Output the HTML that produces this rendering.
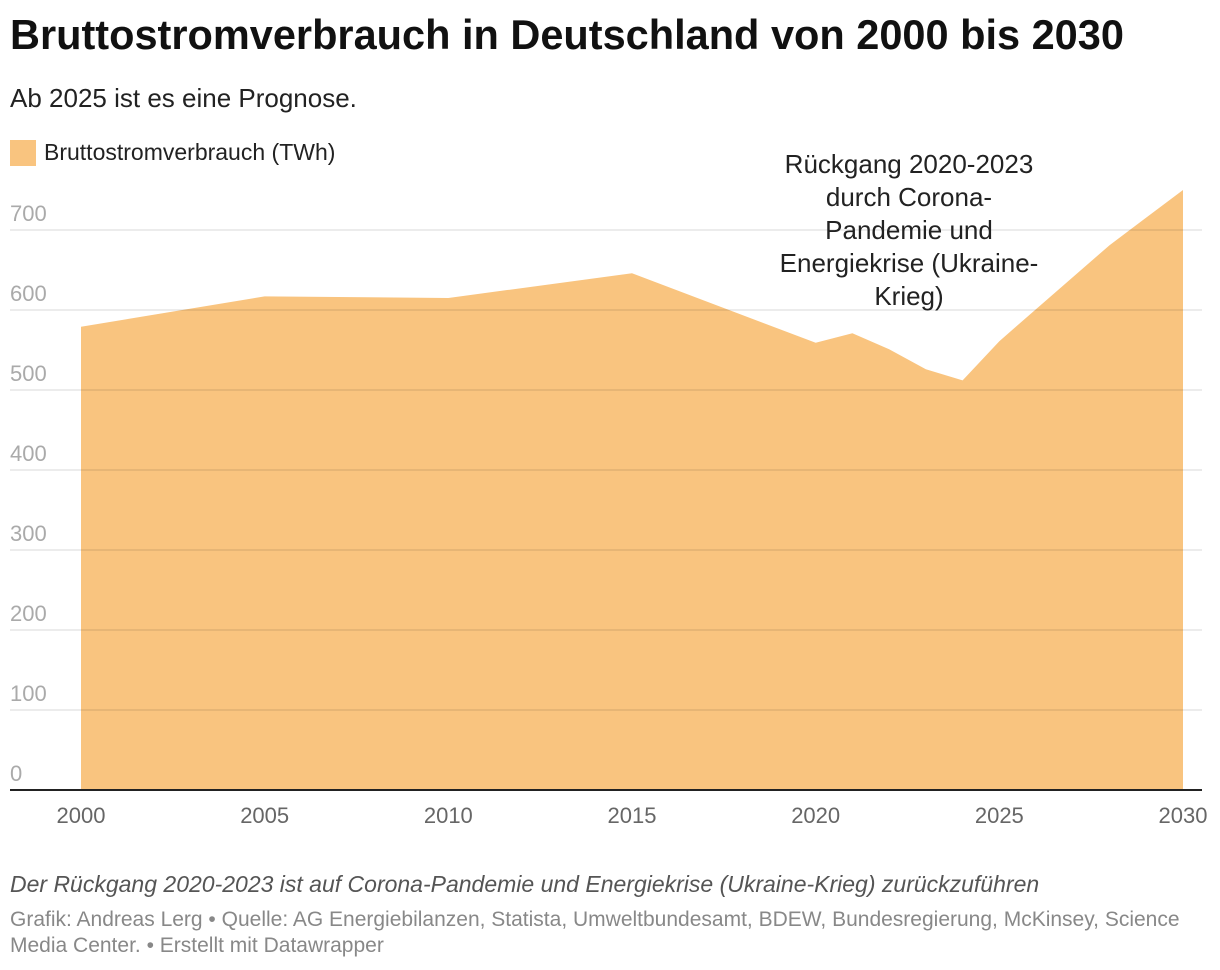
<!DOCTYPE html>
<html><head><meta charset="utf-8"><style>
body{margin:0;background:#fff;font-family:"Liberation Sans",sans-serif;width:1220px;height:970px;overflow:hidden;position:relative}
.t{position:absolute;white-space:nowrap}
</style></head><body>
<div class="t" style="left:10px;top:11px;font-size:41.5px;font-weight:bold;color:#111">Bruttostromverbrauch in Deutschland von 2000 bis 2030</div>
<div class="t" style="left:10px;top:83px;font-size:26px;color:#222">Ab 2025 ist es eine Prognose.</div>
<div style="position:absolute;left:10px;top:140px;height:26px">
<div style="position:absolute;left:0;top:0;width:26px;height:26px;background:#f9c47f"></div>
<div class="t" style="left:34px;top:-1px;font-size:23px;color:#222">Bruttostromverbrauch (TWh)</div></div>
<svg id="chart" width="1220" height="970" style="position:absolute;left:0;top:0"></svg>
<div class="t" style="left:10px;top:871px;font-size:23px;font-style:italic;color:#555">Der Rückgang 2020-2023 ist auf Corona-Pandemie und Energiekrise (Ukraine-Krieg) zurückzuführen</div>
<div class="t" style="left:10px;top:907px;font-size:21px;color:#888;line-height:26px;white-space:normal;width:1205px">Grafik: Andreas Lerg • Quelle: AG Energiebilanzen, Statista, Umweltbundesamt, BDEW, Bundesregierung, McKinsey, Science Media Center. • Erstellt mit Datawrapper</div>
<script>
const years=[2000,2005,2010,2015,2020,2021,2022,2023,2024,2025,2028,2030];
const values=[579,617,615,646,559,571,551,526,512,561,681,750];
const yTicks=[0,100,200,300,400,500,600,700];
const xTicks=[2000,2005,2010,2015,2020,2025,2030];
const NS="http://www.w3.org/2000/svg",svg=document.getElementById('chart');
const x=v=>81+(v-2000)*(1183-81)/30, y=v=>790-v*0.8;
function mk(t,a){const e=document.createElementNS(NS,t);for(const k in a)e.setAttribute(k,a[k]);svg.appendChild(e);return e;}
let d=`M${x(years[0])},${y(0)}`;years.forEach((yr,i)=>d+=`L${x(yr)},${y(values[i])}`);d+=`L${x(years[years.length-1])},${y(0)}Z`;
const area=mk('path',{d:d,fill:'#f9c47f'});


yTicks.forEach(v=>{
 if(v>0){const g=mk('line',{x1:10,x2:1202,y1:y(v),y2:y(v),stroke:'rgba(0,0,0,0.1)','stroke-width':1.5});
 
 }
 const t=mk('text',{x:10,y:y(v)-9,fill:'#aaa','font-size':22,'font-family':'Liberation Sans'});t.textContent=v;
 
 
});
const b=mk('line',{x1:10,x2:1202,y1:790,y2:790,stroke:'#222','stroke-width':2});


xTicks.forEach(v=>{const t=mk('text',{x:x(v),y:823,fill:'#666','font-size':22,'text-anchor':'middle','font-family':'Liberation Sans'});t.textContent=v;
 
 });
const lines=['Rückgang 2020-2023','durch Corona-','Pandemie und','Energiekrise (Ukraine-','Krieg)'];
lines.forEach((s,i)=>{const t=mk('text',{x:909,y:173+i*33,fill:'#222','font-size':26,'text-anchor':'middle','font-family':'Liberation Sans'});t.textContent=s;
 
 });
</script>
</body></html>
